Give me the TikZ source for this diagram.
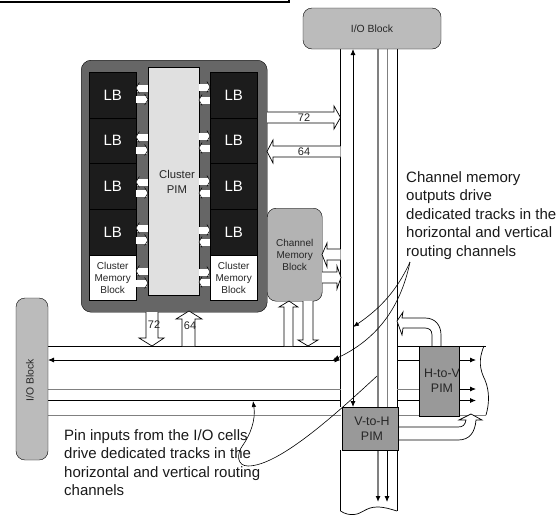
\documentclass[tikz,border=0pt]{standalone}
\usepackage{fontspec}
\setmainfont{Liberation Sans}
\usetikzlibrary{arrows.meta}
\definecolor{clusterdk}{HTML}{666666}
\definecolor{lbdk}{HTML}{1C1C1C}
\definecolor{pimlt}{HTML}{E0E0E0}
\definecolor{iogray}{HTML}{BBBBBB}
\definecolor{chgray}{HTML}{B3B3B3}
\definecolor{pimgray}{HTML}{999999}
\definecolor{trackgray}{HTML}{808080}
\tikzset{
  x=1pt,y=-1pt,
  track/.style={black,line width=0.8pt},
  gtrack/.style={trackgray,line width=1pt},
  tip/.style={-{Latex[length=6pt,width=5pt,black]}},
  twotip/.style={{Latex[length=6pt,width=5pt,black]}-{Latex[length=6pt,width=5pt,black]}},
  note/.style={line width=0.6pt,-{Latex[length=6pt,width=4.5pt]}},
  bigarrow/.style={draw=black,fill=white,line width=0.7pt,line join=miter},
  lbbox/.style={draw=black,fill=lbdk,text=white,minimum width=47pt,minimum height=46pt,inner sep=0pt,font=\fontsize{15}{15}\selectfont,anchor=north west},
  membox/.style={draw=black,fill=white,minimum width=47pt,minimum height=45pt,inner sep=0pt,align=center,font=\fontsize{10}{12}\selectfont,anchor=north west,text=black!85},
  pimbox/.style={draw=black,fill=pimgray,line width=0.9pt,inner sep=0pt,anchor=north west},
  pimtext/.style={inner sep=0pt,align=center,font=\fontsize{12.4}{15}\selectfont,text=black!85},
  label/.style={inner sep=0pt,font=\fontsize{11}{11}\selectfont,text=black!85},
  notetext/.style={inner sep=0pt,align=left,anchor=north west,font=\fontsize{15}{18.6}\selectfont,text=black!90},
  iotext/.style={inner sep=0pt,font=\fontsize{10.4}{12}\selectfont,text=black!85},
}
% horizontal small arrows: tail x, tip x, y centre
\newcommand{\sarrow}[3]{%
  \fill[white] (#1,#3-3.5) rectangle ({#2-(#2-#1)*0.12},#3+3.5);
  \fill[white] ({#2-(#2-#1)*0.12},#3-2.5) -- (#2,#3) -- ({#2-(#2-#1)*0.12},#3+2.5) -- cycle;
  \draw[line width=0.5pt,black] ({#2-(#2-#1)*0.28},#3-5.5) -- (#2,#3) -- ({#2-(#2-#1)*0.28},#3+5.5);
}
\begin{document}
\begin{tikzpicture}
\useasboundingbox (0,0) rectangle (556,515);
% black bar top-left
\draw[black,line width=2pt] (0,1.5) -- (288.5,1.5) -- (288.5,0);
% tracks vertical
\draw[track] (340.5,49) -- (340.5,407) (340.5,450) -- (340.5,511);
\draw[track] (397,49) -- (397,407) (397,450) -- (397,511);
\draw[track,twotip] (353,49) -- (353,407);
\draw[gtrack,line width=1.4pt] (378,49) -- (378,407);
\draw[gtrack,line width=0.8pt] (387,49) -- (387,407);
\draw[gtrack,line width=1.4pt,tip] (378,450) -- (378,502);
\draw[track,tip] (387,450) -- (387,502);
\draw[line width=0.7pt] (340.5,511) .. controls (345,514) and (350,515) .. (354,514.5) .. controls (362,514) and (366,507) .. (377,507) .. controls (385,507) and (390,509) .. (397,511);
% tracks horizontal
\draw[track] (48,346) -- (340.5,346) (397,346) -- (486,346);
\draw[track,twotip] (48,360) -- (340.5,360);
\draw[track] (397,360) -- (419,360);
\draw[track,tip] (459,360) -- (476,360);
\draw[gtrack] (48,389) -- (340.5,389);
\draw[gtrack] (397,389) -- (419,389);
\draw[track,tip] (459,389) -- (476,389);
\draw[track] (48,400.5) -- (340.5,400.5) (397,400.5) -- (419,400.5);
\draw[track,tip] (459,400.5) -- (476,400.5);
\draw[gtrack] (48,415) -- (340.5,415) (397,415) -- (486,415);
\draw[line width=0.7pt] (484,346) .. controls (478,360) and (480,370) .. (485,380) .. controls (490,392) and (489,405) .. (486,415);
% bent block arrows
\path[bigarrow] (432,346) -- (432,335) .. controls (432,330) and (429,328) .. (425,328) -- (403,328) -- (402,335) -- (397,321) -- (403,312) -- (402,318) -- (425,318) .. controls (435,318) and (441,325) .. (441,335) -- (441,346);
\path[bigarrow] (398,427) -- (458,427) .. controls (463,427) and (465,425) .. (466,420) -- (459,420) -- (471,414) -- (482,420) -- (476,420) .. controls (475,432) and (470,440) .. (458,440) -- (398,440);
% PIM boxes
\node[pimbox,minimum width=40pt,minimum height=70pt] (htov) at (419,346) {};
\node[pimtext] (htovt) at (442,381) {H-to-V\\PIM};
\node[pimbox,minimum width=56pt,minimum height=43pt] (vtoh) at (342,407) {};
\node[pimtext] (vtoht) at (372,429) {V-to-H\\PIM};
% I/O blocks
\node[draw=black,fill=iogray,rounded corners=9pt,minimum width=138pt,minimum height=41pt,inner sep=0pt,iotext] (iotop) at (372,28.5) {I/O Block};
\node[draw=black,fill=iogray,rounded corners=9pt,minimum width=32pt,minimum height=162pt,inner sep=0pt] (ioleft) at (32,379) {};
\node[rotate=90,iotext] (iolefttext) at (30,380) {I/O Block};
% Cluster
\node[draw=black,fill=clusterdk,rounded corners=10pt,minimum width=186pt,minimum height=252pt,inner sep=0pt,anchor=north west] (cluster) at (81,60) {};
\node[draw=black,fill=pimlt,minimum width=51pt,minimum height=228pt,inner sep=0pt,anchor=north west] (cpim) at (148,67) {};
\node[label,align=center,font=\fontsize{11.3}{15}\selectfont] (cpimt) at (177,182) {Cluster\\PIM};
\foreach \n/\y in {a/72,b/117.5,c/163,d/209}{
  \node[lbbox] (lbl\n) at (89,\y) {LB};
  \node[lbbox] (lbr\n) at (210,\y) {LB};
}
\node[membox] (memle) at (89,255) {Cluster\\Memory\\Block};
\node[membox] (memri) at (210,255) {Cluster\\Memory\\Block};
% small arrows left column
\sarrow{148}{136}{88}\sarrow{136}{148}{99.5}
\sarrow{148}{136}{137}\sarrow{136}{148}{150}
\sarrow{148}{136}{182}\sarrow{136}{148}{193}
\sarrow{148}{136}{228}\sarrow{136}{148}{240}
\sarrow{148}{136}{271}\sarrow{136}{148}{283}
% right column
\sarrow{199}{210}{87}\sarrow{210}{199}{100}
\sarrow{199}{210}{136}\sarrow{210}{199}{148}
\sarrow{199}{210}{181}\sarrow{210}{199}{193}
\sarrow{199}{210}{230}\sarrow{210}{199}{242}
\sarrow{199}{210}{272}\sarrow{210}{199}{282}
% Big arrows 72/64 right
\path[bigarrow] (267,112) -- (334,112) -- (334,106) -- (340.5,117.5) -- (334,129) -- (334,123) -- (267,123);
\path[bigarrow] (340.5,146) -- (273,146) -- (273,140) -- (267,151.5) -- (273,163) -- (273,157) -- (340.5,157);
\node[label] (l72a) at (304,118) {72};
\node[label] (l64a) at (304,152) {64};
% Channel Memory
\node[draw=black,fill=chgray,rounded corners=9pt,minimum width=55pt,minimum height=93pt,inner sep=0pt,anchor=north west,align=center,font=\fontsize{10}{12}\selectfont,text=black!85] (chmem) at (267,208) {Channel\\Memory\\Block};
\path[bigarrow] (340.5,249) -- (327,249) -- (327,243) -- (322,254.5) -- (327,267) -- (327,260) -- (340.5,260);
\path[bigarrow] (322,272) -- (337,272) -- (337,266) -- (341,277.5) -- (337,289) -- (337,283) -- (322,283);
\path[bigarrow] (284,346) -- (284,307) -- (279,307) -- (289,301) -- (298,307) -- (293,307) -- (293,346);
\path[bigarrow] (303,301) -- (303,340) -- (298,340) -- (308,346) -- (318,340) -- (313,340) -- (313,301);
% big arrows under cluster
\path[bigarrow] (146,312) -- (146,338) -- (139,338) -- (152,346) -- (164,338) -- (158,338) -- (158,312);
\path[bigarrow] (182,346) -- (182,319) -- (176,319) -- (189,311) -- (202,319) -- (195,319) -- (195,346);
\node[label] (l72b) at (154,325) {72};
\node[label] (l64b) at (190,326) {64};
% Notes
\node[notetext] (n1) at (406,171) {Channel memory\\outputs drive\\dedicated tracks in the\\horizontal and vertical\\routing channels};
\node[notetext] (n2) at (64,429) {Pin inputs from the I/O cells\\drive dedicated tracks in the\\horizontal and vertical routing\\channels};
\coordinate (c1) at (410,262);
\draw[note] (c1) .. controls (395,295) and (375,312) .. (353,327);
\draw[note] (c1) .. controls (400,310) and (375,340) .. (333,360);
\draw[note] (377,376) .. controls (340,410) and (280,466) .. (248,466) .. controls (237,466) and (236,454) .. (243,445) .. controls (250,435) and (256,420) .. (253,401);
\end{tikzpicture}
\end{document}
